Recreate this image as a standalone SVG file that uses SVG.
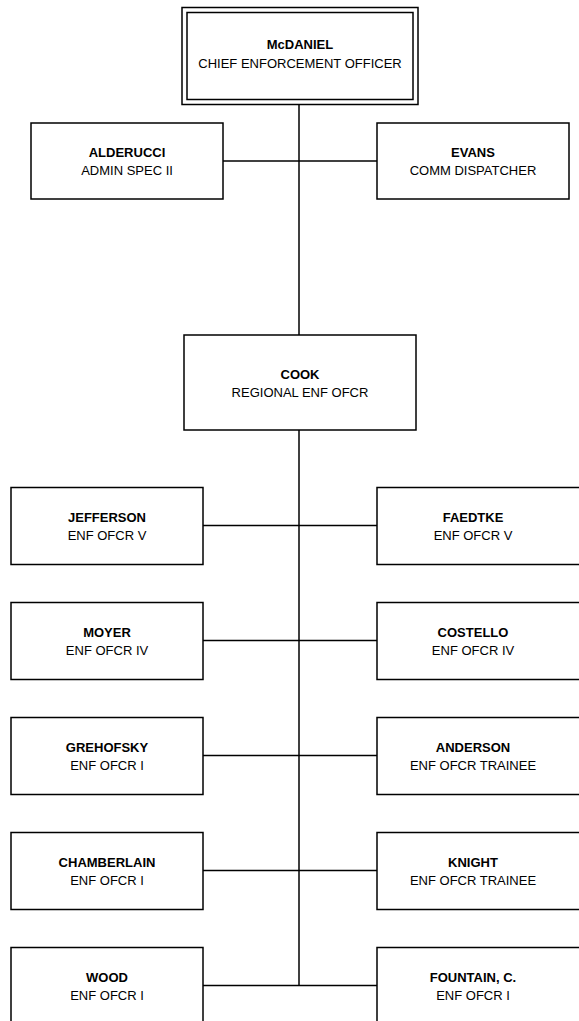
<svg xmlns="http://www.w3.org/2000/svg" width="579" height="1021" viewBox="0 0 579 1021">
<style>
.box{fill:#fff;stroke:#000;stroke-width:1.5}
.ln{stroke:#000;stroke-width:1.5;fill:none}
text{font-family:"Liberation Sans",Arial,sans-serif;font-size:13px;text-anchor:middle;fill:#000}
.b{font-weight:bold}
</style>
<rect width="579" height="1021" fill="#fff"/>
<g id="connectors">
<line class="ln" x1="299" y1="104" x2="299" y2="985"/>
<line class="ln" x1="223" y1="161" x2="377" y2="161"/>
<line class="ln" x1="203" y1="525.5" x2="377" y2="525.5"/>
<line class="ln" x1="203" y1="640.5" x2="377" y2="640.5"/>
<line class="ln" x1="203" y1="755.5" x2="377" y2="755.5"/>
<line class="ln" x1="203" y1="870.5" x2="377" y2="870.5"/>
<line class="ln" x1="203" y1="985.5" x2="377" y2="985.5"/>
</g>
<g id="mcdaniel">
<rect class="box" x="182" y="7.5" width="236" height="97"/>
<rect class="box" x="187" y="12.5" width="226" height="87"/>
<text class="b" x="300" y="49">McDANIEL</text>
<text x="300" y="68">CHIEF ENFORCEMENT OFFICER</text>
</g>
<g id="alderucci">
<rect class="box" x="31" y="123" width="192" height="76"/>
<text class="b" x="127" y="157">ALDERUCCI</text>
<text x="127" y="175">ADMIN SPEC II</text>
</g>
<g id="evans">
<rect class="box" x="377" y="123" width="192" height="76"/>
<text class="b" x="473" y="157">EVANS</text>
<text x="473" y="175">COMM DISPATCHER</text>
</g>
<g id="cook">
<rect class="box" x="184" y="335" width="232" height="95"/>
<text class="b" x="300" y="379">COOK</text>
<text x="300" y="397">REGIONAL ENF OFCR</text>
</g>
<g id="jefferson">
<rect class="box" x="11" y="487.5" width="192" height="77"/>
<text class="b" x="107" y="522">JEFFERSON</text>
<text x="107" y="540">ENF OFCR V</text>
</g>
<g id="faedtke">
<rect class="box" x="377" y="487.5" width="210" height="77"/>
<text class="b" x="473" y="522">FAEDTKE</text>
<text x="473" y="540">ENF OFCR V</text>
</g>
<g id="moyer">
<rect class="box" x="11" y="602.5" width="192" height="77"/>
<text class="b" x="107" y="637">MOYER</text>
<text x="107" y="655">ENF OFCR IV</text>
</g>
<g id="costello">
<rect class="box" x="377" y="602.5" width="210" height="77"/>
<text class="b" x="473" y="637">COSTELLO</text>
<text x="473" y="655">ENF OFCR IV</text>
</g>
<g id="grehofsky">
<rect class="box" x="11" y="717.5" width="192" height="77"/>
<text class="b" x="107" y="752">GREHOFSKY</text>
<text x="107" y="770">ENF OFCR I</text>
</g>
<g id="anderson">
<rect class="box" x="377" y="717.5" width="210" height="77"/>
<text class="b" x="473" y="752">ANDERSON</text>
<text x="473" y="770">ENF OFCR TRAINEE</text>
</g>
<g id="chamberlain">
<rect class="box" x="11" y="832.5" width="192" height="77"/>
<text class="b" x="107" y="867">CHAMBERLAIN</text>
<text x="107" y="885">ENF OFCR I</text>
</g>
<g id="knight">
<rect class="box" x="377" y="832.5" width="210" height="77"/>
<text class="b" x="473" y="867">KNIGHT</text>
<text x="473" y="885">ENF OFCR TRAINEE</text>
</g>
<g id="wood">
<rect class="box" x="11" y="947.5" width="192" height="77"/>
<text class="b" x="107" y="982">WOOD</text>
<text x="107" y="1000">ENF OFCR I</text>
</g>
<g id="fountain">
<rect class="box" x="377" y="947.5" width="210" height="77"/>
<text class="b" x="473" y="982">FOUNTAIN, C.</text>
<text x="473" y="1000">ENF OFCR I</text>
</g>
</svg>
